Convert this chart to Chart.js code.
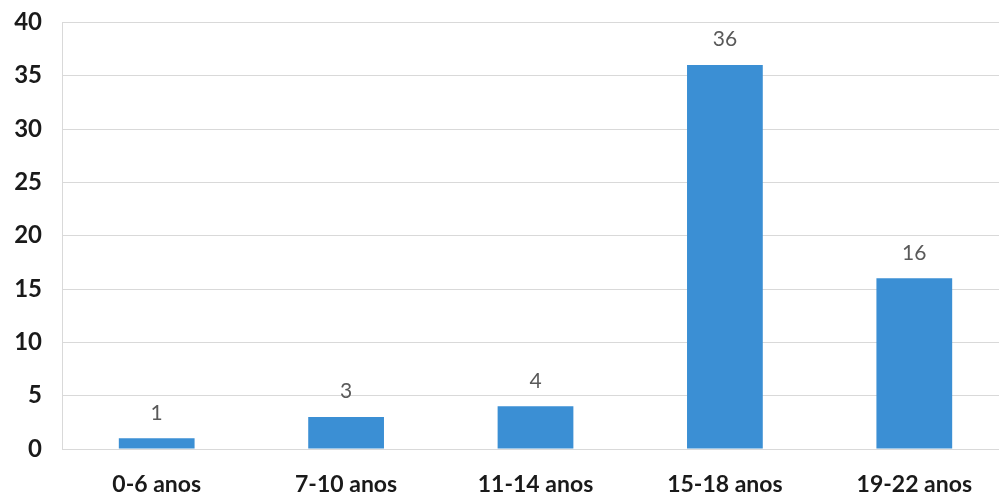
<!DOCTYPE html>
<html>
<head>
<meta charset="utf-8">
<script src="https://cdn.jsdelivr.net/npm/chart.js@4/dist/chart.umd.min.js"></script>
<style>
  html, body { margin: 0; padding: 0; background: #fff; overflow: hidden; }
  #wrap { width: 1009px; height: 509px; position: relative; top: -12px; }
</style>
</head>
<body>
<div id="wrap"><canvas id="ageChart"></canvas></div>
<script>
const faixas = ["0-6 anos", "7-10 anos", "11-14 anos", "15-18 anos", "19-22 anos"];
const alunos = [1, 3, 4, 36, 16];
const yTicks = [0, 5, 10, 15, 20, 25, 30, 35, 40];

// writes each bar's value just above it
const valueLabels = {
  id: "valueLabels",
  afterDatasetsDraw(chart) {
    const ctx = chart.ctx;
    const meta = chart.getDatasetMeta(0);
    ctx.save();
    ctx.font = "21px Lato, 'Open Sans', sans-serif";
    ctx.fillStyle = "#595959";
    ctx.textAlign = "center";
    ctx.textBaseline = "bottom";
    meta.data.forEach((bar, i) => {
      ctx.fillText(String(chart.data.datasets[0].data[i]), bar.x, bar.y - 15);
    });
    ctx.restore();
  },
};

new Chart(document.getElementById("ageChart"), {
  type: "bar",
  data: {
    labels: faixas,
    datasets: [{
      data: alunos,
      backgroundColor: "#3b8fd4",
      categoryPercentage: 0.8,
      barPercentage: 0.5,
    }],
  },
  options: {
    responsive: true,
    maintainAspectRatio: false,
    animation: false,
    layout: { padding: { top: 6, right: 0, bottom: 0, left: 0 } },
    plugins: { legend: { display: false }, tooltip: { enabled: false } },
    scales: {
      x: {
        grid: { display: false, drawTicks: true },
        border: { color: "#d9d9d9" },
        ticks: { color: "#1a1a1a", font: { family: "Lato", size: 23, weight: "bold" }, padding: 14 },
        afterFit: (scale) => { scale.height = 48; },
      },
      y: {
        min: 0,
        max: 40,
        afterBuildTicks: (scale) => { scale.ticks = yTicks.map((v) => ({ value: v })); },
        grid: { color: "#d9d9d9", drawTicks: false },
        border: { color: "#d9d9d9" },
        ticks: { color: "#1a1a1a", font: { family: "Lato", size: 24, weight: "bold" }, padding: 20 },
        afterFit: (scale) => { scale.width = 62; },
      },
    },
  },
  plugins: [valueLabels],
});
</script>
</body>
</html>
